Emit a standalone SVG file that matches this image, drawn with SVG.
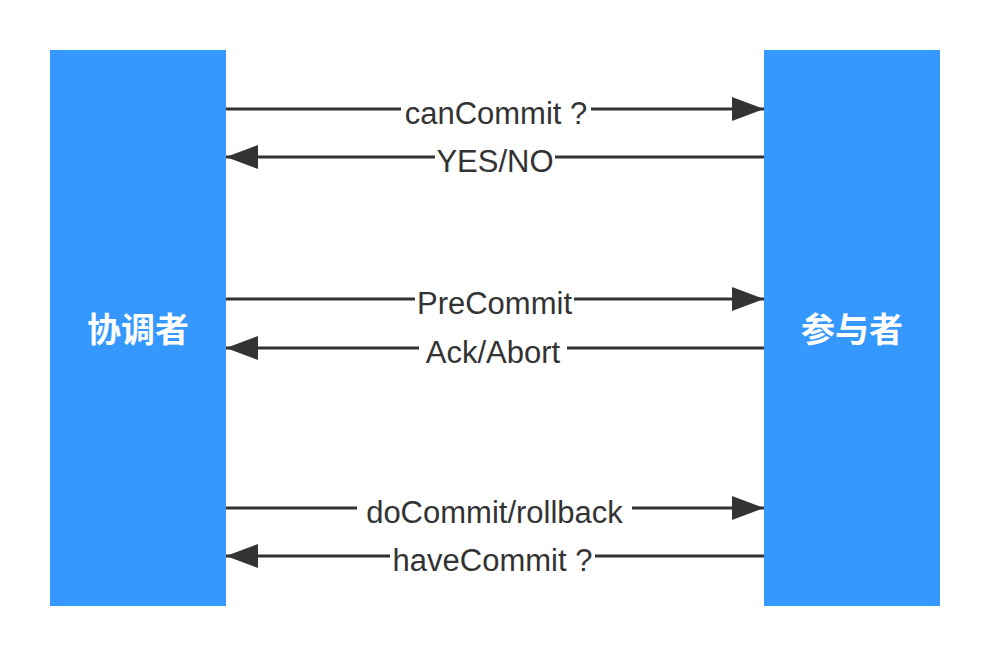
<svg xmlns="http://www.w3.org/2000/svg" width="990" height="656" viewBox="0 0 990 656">
<style>
.box{fill:#3598FE}
.role{fill:#FFFFFF;font-family:"Noto Sans CJK SC","Noto Sans",sans-serif;font-size:34px;font-weight:600;text-anchor:middle}
.ln{stroke:#333333;stroke-width:3;fill:none}
.lbl{fill:#333333;font-family:"Liberation Sans","Noto Sans",Arial,sans-serif;font-size:31px;text-anchor:middle}
.bg{fill:#FFFFFF}
</style>
<defs>
<marker id="ah" markerUnits="userSpaceOnUse" markerWidth="32" markerHeight="24" refX="32" refY="12" orient="auto">
<path d="M0,0 L32,12 L0,24 Z" fill="#333333"/>
</marker>
</defs>
<rect width="990" height="656" fill="#FFFFFF"/>
<g id="coordinator">
<rect class="box" x="50" y="50" width="176" height="556"/>
<text class="role" x="138" y="342">协调者</text>
</g>
<g id="participant">
<rect class="box" x="764" y="50" width="176" height="556"/>
<text class="role" x="852" y="342">参与者</text>
</g>
<g id="connectors">
<line class="ln" x1="226" y1="109" x2="764" y2="109" marker-end="url(#ah)"/>
<line class="ln" x1="764" y1="157" x2="226" y2="157" marker-end="url(#ah)"/>
<line class="ln" x1="226" y1="299" x2="764" y2="299" marker-end="url(#ah)"/>
<line class="ln" x1="764" y1="348" x2="226" y2="348" marker-end="url(#ah)"/>
<line class="ln" x1="226" y1="508" x2="764" y2="508" marker-end="url(#ah)"/>
<line class="ln" x1="764" y1="556" x2="226" y2="556" marker-end="url(#ah)"/>
<rect class="bg" x="401" y="96" width="190" height="30"/>
<text class="lbl" x="496" y="124">canCommit ?</text>
<rect class="bg" x="435" y="144" width="120" height="30"/>
<text class="lbl" x="495" y="172">YES/NO</text>
<rect class="bg" x="415" y="286" width="159" height="30"/>
<text class="lbl" x="494.5" y="314">PreCommit</text>
<rect class="bg" x="419" y="335" width="148" height="30"/>
<text class="lbl" x="493" y="363">Ack/Abort</text>
<rect class="bg" x="357" y="495" width="275" height="30"/>
<text class="lbl" x="494.5" y="523">doCommit/rollback</text>
<rect class="bg" x="390" y="543" width="205" height="30"/>
<text class="lbl" x="492.5" y="571">haveCommit ?</text>
</g>
</svg>
